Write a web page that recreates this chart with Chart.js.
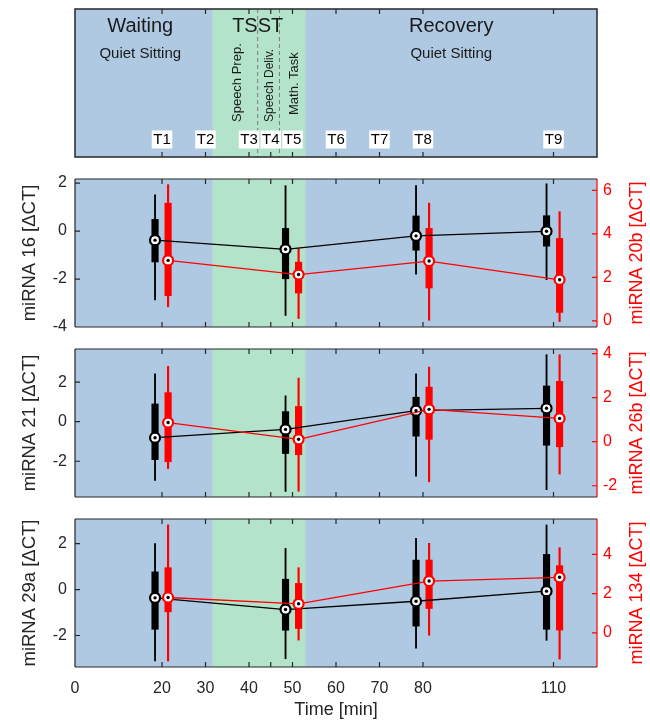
<!DOCTYPE html>
<html>
<head>
<meta charset="utf-8">
<script src="https://cdn.jsdelivr.net/npm/chart.js@4.4.0/dist/chart.umd.min.js"></script>
<style>
body { margin: 0; background: #fff; }
#wrap { position: relative; width: 650px; height: 721px; }
canvas { position: absolute; left: 0; }
</style>
</head>
<body>
<div id="wrap">
  <canvas id="phase" width="650" height="166" style="top:0px;width:650px;height:166px"></canvas>
  <canvas id="c1" width="650" height="166" style="top:170px;width:650px;height:166px"></canvas>
  <canvas id="c2" width="650" height="166" style="top:340px;width:650px;height:166px"></canvas>
  <canvas id="c3" width="650" height="211" style="top:510px;width:650px;height:211px"></canvas>
</div>
<script>
// --- study design (minutes) ---
const phaseNames = ['Waiting', 'TSST', 'Recovery'];
const phaseCenters = [15, 42, 86.5];
const activityNames = ['Quiet Sitting', 'Quiet Sitting'];
const activityCenters = [15, 86.5];
const stepNames = ['Speech Prep.', 'Speech Deliv.', 'Math. Task'];
const stepCenters = [37.4, 44.8, 50.4];
const stepBounds = [42, 47];
const tsstSpan = [31.6, 53];
const sampleNames = ['T1', 'T2', 'T3', 'T4', 'T5', 'T6', 'T7', 'T8', 'T9'];
const sampleTimes = [20, 30, 40, 45, 50, 60, 70, 80, 110];
const xTickLabels = [0, 20, 30, 40, 50, 60, 70, 80, 110];

// boxplots are drawn at T1, T5, T8, T9
const boxTimes = [20, 50, 80, 110];

// miRNA 16 (left, black) / miRNA 20b (right, red)
const mir16Min = [-2.87, -3.52, -1.80, -2.03];
const mir16Q1  = [-1.29, -1.99, -0.80, -0.63];
const mir16Med = [-0.38, -0.76, -0.20, -0.01];
const mir16Q3  = [0.49, 0.11, 0.63, 0.64];
const mir16Max = [1.51, 1.89, 1.90, 1.97];
const mir20bMin = [0.65, 0.11, 0.03, -0.03];
const mir20bQ1  = [1.16, 1.28, 1.51, 0.39];
const mir20bMed = [2.78, 2.13, 2.75, 1.89];
const mir20bQ3  = [5.41, 2.70, 4.25, 3.79];
const mir20bMax = [6.26, 3.32, 5.41, 5.02];

// miRNA 21 (left) / miRNA 26b (right)
const mir21Min = [-2.97, -3.53, -2.75, -3.44];
const mir21Q1  = [-1.92, -1.61, -0.73, -1.19];
const mir21Med = [-0.81, -0.39, 0.56, 0.68];
const mir21Q3  = [0.90, 0.51, 1.24, 1.81];
const mir21Max = [2.42, 1.31, 2.42, 3.39];
const mir26bMin = [-1.22, -2.25, -1.82, -1.47];
const mir26bQ1  = [-0.91, -0.59, 0.11, -0.23];
const mir26bMed = [0.87, 0.11, 1.47, 1.06];
const mir26bQ3  = [2.23, 1.60, 2.48, 2.74];
const mir26bMax = [3.42, 2.89, 3.39, 3.95];

// miRNA 29a (left) / miRNA 134 (right)
const mir29aMin = [-3.11, -3.01, -2.55, -2.21];
const mir29aQ1  = [-1.73, -1.77, -1.59, -1.73];
const mir29aMed = [-0.36, -0.87, -0.51, -0.07];
const mir29aQ3  = [0.77, 0.45, 1.28, 1.53];
const mir29aMax = [2.00, 1.79, 2.23, 2.81];
const mir134Min = [-1.43, -0.37, -0.12, -1.34];
const mir134Q1  = [1.07, 0.22, 1.24, 0.14];
const mir134Med = [1.80, 1.48, 2.64, 2.83];
const mir134Q3  = [3.32, 2.52, 3.71, 3.42];
const mir134Max = [5.50, 3.32, 4.56, 4.34];

Chart.defaults.font.family = '"Liberation Sans", Arial, Helvetica, sans-serif';
Chart.defaults.animation = false;

const BLUE = '#b0c9e3';
const GREEN = '#b3e3cb';
const AXIS = '#262626';
const RED = '#ff0000';

// top panel: phases of the protocol
const phasePlugin = {
  id: 'phase',
  afterDraw(chart) {
    const { ctx, chartArea: a, scales: { x } } = chart;
    const px = v => x.getPixelForValue(v);
    ctx.save();
    ctx.fillStyle = BLUE;
    ctx.fillRect(a.left, a.top, a.right - a.left, a.bottom - a.top);
    ctx.fillStyle = GREEN;
    ctx.fillRect(px(tsstSpan[0]), a.top, px(tsstSpan[1]) - px(tsstSpan[0]), a.bottom - a.top);

    ctx.strokeStyle = '#7a7a7a';
    ctx.lineWidth = 1;
    ctx.setLineDash([4, 3]);
    stepBounds.forEach(v => {
      ctx.beginPath();
      ctx.moveTo(px(v), a.top);
      ctx.lineTo(px(v), a.bottom);
      ctx.stroke();
    });
    ctx.setLineDash([]);

    ctx.strokeStyle = AXIS;
    ctx.lineWidth = 1.2;
    sampleTimes.forEach(t => {
      ctx.beginPath();
      ctx.moveTo(px(t), a.top); ctx.lineTo(px(t), a.top + 5);
      ctx.moveTo(px(t), a.bottom); ctx.lineTo(px(t), a.bottom - 5);
      ctx.stroke();
    });
    ctx.lineWidth = 1.5;
    ctx.strokeRect(a.left, a.top, a.right - a.left, a.bottom - a.top);

    ctx.fillStyle = '#1a1a1a';
    ctx.textAlign = 'center';
    ctx.textBaseline = 'middle';
    ctx.font = '20px "Liberation Sans", Arial, sans-serif';
    phaseNames.forEach((n, i) => ctx.fillText(n, px(phaseCenters[i]), a.top + 17));
    ctx.font = '15px "Liberation Sans", Arial, sans-serif';
    activityNames.forEach((n, i) => ctx.fillText(n, px(activityCenters[i]), a.top + 45));

    const stepSizes = [13, 12, 13];
    const stepBottoms = [113, 113, 106];
    stepNames.forEach((n, i) => {
      ctx.save();
      ctx.translate(px(stepCenters[i]), a.top + stepBottoms[i]);
      ctx.rotate(-Math.PI / 2);
      ctx.font = stepSizes[i] + 'px "Liberation Sans", Arial, sans-serif';
      ctx.textAlign = 'left';
      ctx.fillText(n, 0, 0);
      ctx.restore();
    });

    ctx.font = '15px "Liberation Sans", Arial, sans-serif';
    sampleNames.forEach((n, i) => {
      const w = ctx.measureText(n).width + 3;
      const cx = px(sampleTimes[i]);
      const cy = a.top + 130.5;
      ctx.fillStyle = '#fff';
      ctx.fillRect(cx - w / 2, cy - 9, w, 18);
      ctx.fillStyle = '#000';
      ctx.fillText(n, cx, cy + 0.5);
    });
    ctx.restore();
  }
};

new Chart(document.getElementById('phase'), {
  type: 'scatter',
  data: { datasets: [] },
  options: {
    responsive: false,
    events: [],
    layout: { padding: { left: 75, right: 53, top: 9, bottom: 9 } },
    plugins: { legend: { display: false }, tooltip: { enabled: false } },
    scales: {
      x: { type: 'linear', min: 0, max: 120, display: false },
      y: { type: 'linear', min: 0, max: 1, display: false }
    }
  },
  plugins: [phasePlugin]
});

// subplot background, frame, inward ticks, right label
const panelPlugin = {
  id: 'panel',
  beforeDatasetsDraw(chart) {
    const { ctx, chartArea: a, scales: { x } } = chart;
    ctx.save();
    ctx.fillStyle = BLUE;
    ctx.fillRect(a.left, a.top, a.right - a.left, a.bottom - a.top);
    const g0 = x.getPixelForValue(tsstSpan[0]);
    const g1 = x.getPixelForValue(tsstSpan[1]);
    ctx.fillStyle = GREEN;
    ctx.fillRect(g0, a.top, g1 - g0, a.bottom - a.top);
    ctx.restore();
  },
  afterDatasetsDraw(chart, args, opts) {
    const { ctx, chartArea: a, scales: { x, y, y2 } } = chart;
    ctx.save();
    ctx.lineWidth = 1.2;
    ctx.strokeStyle = AXIS;
    ctx.beginPath();
    sampleTimes.forEach(t => {
      const p = x.getPixelForValue(t);
      ctx.moveTo(p, a.top); ctx.lineTo(p, a.top + 5);
      ctx.moveTo(p, a.bottom); ctx.lineTo(p, a.bottom - 5);
    });
    y.ticks.forEach(tk => {
      const p = y.getPixelForValue(tk.value);
      ctx.moveTo(a.left, p); ctx.lineTo(a.left + 5, p);
    });
    ctx.moveTo(a.left, a.top); ctx.lineTo(a.right, a.top);
    ctx.moveTo(a.left, a.bottom); ctx.lineTo(a.right, a.bottom);
    ctx.moveTo(a.left, a.top); ctx.lineTo(a.left, a.bottom);
    ctx.stroke();

    ctx.strokeStyle = RED;
    ctx.beginPath();
    y2.ticks.forEach(tk => {
      const p = y2.getPixelForValue(tk.value);
      ctx.moveTo(a.right, p); ctx.lineTo(a.right - 5, p);
    });
    ctx.moveTo(a.right, a.top); ctx.lineTo(a.right, a.bottom);
    ctx.stroke();

    ctx.fillStyle = RED;
    ctx.font = '18px "Liberation Sans", Arial, sans-serif';
    ctx.textAlign = 'center';
    ctx.textBaseline = 'middle';
    ctx.translate(chart.width - 13, (a.top + a.bottom) / 2);
    ctx.rotate(-Math.PI / 2);
    ctx.fillText(opts.rightTitle, 0, 0);
    ctx.restore();
  }
};

function rangeData(shift, lo, hi) {
  return boxTimes.map((t, i) => ({ x: t + shift, y: [lo[i], hi[i]] }));
}
function medData(shift, vals) {
  return boxTimes.map((t, i) => ({ x: t + shift, y: vals[i] }));
}

function makePanel(id, p) {
  const bs = -1.6, rs = 1.4;
  const fit = w => s => { s.width = w; s.paddingTop = 0; s.paddingBottom = 0; };
  new Chart(document.getElementById(id), {
    type: 'bar',
    data: {
      datasets: [
        { type: 'bar', data: rangeData(bs, p.bMin, p.bMax), backgroundColor: '#000', barThickness: 1.2, grouped: false, yAxisID: 'y', order: 6 },
        { type: 'bar', data: rangeData(bs, p.bQ1, p.bQ3), backgroundColor: '#000', barThickness: 6.5, grouped: false, yAxisID: 'y', order: 5 },
        { type: 'bar', data: rangeData(rs, p.rMin, p.rMax), backgroundColor: RED, barThickness: 1.5, grouped: false, yAxisID: 'y2', order: 4 },
        { type: 'bar', data: rangeData(rs, p.rQ1, p.rQ3), backgroundColor: RED, barThickness: 6.5, grouped: false, yAxisID: 'y2', order: 3 },
        { type: 'line', data: medData(bs, p.bMed), borderColor: '#000', borderWidth: 1.3, pointRadius: 5, pointBorderWidth: 2.2,
          pointBorderColor: '#000', pointBackgroundColor: '#fff', yAxisID: 'y', order: 2 },
        { type: 'line', data: medData(rs, p.rMed), borderColor: RED, borderWidth: 1.3, pointRadius: 5, pointBorderWidth: 2.2,
          pointBorderColor: RED, pointBackgroundColor: '#fff', yAxisID: 'y2', order: 1 },
        { type: 'line', data: medData(bs, p.bMed), showLine: false, pointRadius: 1.7, pointBorderWidth: 0, pointBackgroundColor: '#000', yAxisID: 'y', order: 0 },
        { type: 'line', data: medData(rs, p.rMed), showLine: false, pointRadius: 1.7, pointBorderWidth: 0, pointBackgroundColor: '#000', yAxisID: 'y2', order: 0 }
      ]
    },
    options: {
      responsive: false,
      events: [],
      layout: { padding: { left: 0, right: 0, top: 9, bottom: p.showX ? 0 : 9 } },
      plugins: { legend: { display: false }, tooltip: { enabled: false }, panel: { rightTitle: p.rightTitle } },
      scales: {
        x: {
          type: 'linear', min: 0, max: 120, offset: false, display: p.showX,
          afterBuildTicks: s => { s.ticks = xTickLabels.map(v => ({ value: v })); },
          grid: { display: false, drawTicks: false }, border: { display: false },
          ticks: { padding: 12, autoSkip: false, maxRotation: 0, color: AXIS, font: { size: 16 } },
          title: { display: true, text: 'Time [min]', color: AXIS, font: { size: 18 }, padding: { top: 0, bottom: 0 } },
          afterFit: s => { s.height = p.showX ? 54 : 0; s.paddingLeft = 0; s.paddingRight = 0; }
        },
        y: {
          type: 'linear', position: 'left', min: p.yRange[0], max: p.yRange[1],
          grid: { display: false, drawTicks: false }, border: { display: false },
          ticks: { stepSize: 2, includeBounds: false, padding: 8, color: AXIS, font: { size: 16 } },
          title: { display: true, text: p.leftTitle, color: AXIS, font: { size: 18.5 }, padding: { top: 19, bottom: 0 } },
          afterFit: fit(75)
        },
        y2: {
          type: 'linear', position: 'right', min: p.y2Range[0], max: p.y2Range[1],
          grid: { display: false, drawTicks: false }, border: { display: false },
          ticks: { stepSize: 2, includeBounds: false, padding: 6, color: RED, font: { size: 16 } },
          afterFit: fit(53)
        }
      }
    },
    plugins: [panelPlugin]
  });
}

makePanel('c1', {
  leftTitle: 'miRNA 16 [ΔCT]', rightTitle: 'miRNA 20b [ΔCT]',
  yRange: [-4, 2.17], y2Range: [-0.28, 6.52], showX: false,
  bMin: mir16Min, bQ1: mir16Q1, bMed: mir16Med, bQ3: mir16Q3, bMax: mir16Max,
  rMin: mir20bMin, rQ1: mir20bQ1, rMed: mir20bMed, rQ3: mir20bQ3, rMax: mir20bMax
});
makePanel('c2', {
  leftTitle: 'miRNA 21 [ΔCT]', rightTitle: 'miRNA 26b [ΔCT]',
  yRange: [-3.81, 3.68], y2Range: [-2.51, 4.21], showX: false,
  bMin: mir21Min, bQ1: mir21Q1, bMed: mir21Med, bQ3: mir21Q3, bMax: mir21Max,
  rMin: mir26bMin, rQ1: mir26bQ1, rMed: mir26bMed, rQ3: mir26bQ3, rMax: mir26bMax
});
makePanel('c3', {
  leftTitle: 'miRNA 29a [ΔCT]', rightTitle: 'miRNA 134 [ΔCT]',
  yRange: [-3.37, 3.07], y2Range: [-1.74, 5.80], showX: true,
  bMin: mir29aMin, bQ1: mir29aQ1, bMed: mir29aMed, bQ3: mir29aQ3, bMax: mir29aMax,
  rMin: mir134Min, rQ1: mir134Q1, rMed: mir134Med, rQ3: mir134Q3, rMax: mir134Max
});
</script>
</body>
</html>
